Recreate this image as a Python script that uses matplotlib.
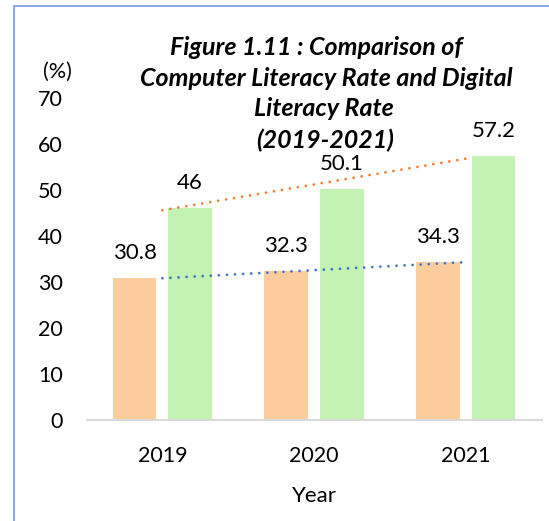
import numpy as np
import matplotlib
matplotlib.use("Agg")
import matplotlib.pyplot as plt
from matplotlib.patches import Rectangle

plt.rcParams['font.family'] = ['Lato', 'DejaVu Sans']

years = ['2019', '2020', '2021']
computer_literacy = [30.8, 32.3, 34.3]
digital_literacy = [46, 50.1, 57.2]
title_lines = ['Figure 1.11 : Comparison of', 'Computer Literacy Rate and Digital',
               'Literacy Rate', '(2019-2021)']

orange_bar = '#FDCD9E'
green_bar = '#C4F2B2'
orange_line = '#ED7D31'
blue_line = '#4472C4'

fig = plt.figure(figsize=(5.49, 5.21), dpi=100)
ax = fig.add_axes([0.1576, 0.1948, 0.829, 0.618])

x = np.arange(len(years))
w = 0.288
off = 0.183
b1 = ax.bar(x - off, computer_literacy, w, color=orange_bar)
b2 = ax.bar(x + off, digital_literacy, w, color=green_bar)

# linear trendlines like excel
for vals, col in [(computer_literacy, blue_line), (digital_literacy, orange_line)]:
    k, c = np.polyfit(x, vals, 1)
    ax.plot(x, k * x + c, color=col, lw=2.0, linestyle=(0, (0.01, 2.9)),
            dash_capstyle='round', zorder=3)

for bars, vals in [(b1, computer_literacy), (b2, digital_literacy)]:
    for r, v in zip(bars, vals):
        ax.annotate(f'{v:g}', (r.get_x() + r.get_width() / 2, v),
                    xytext=(0, 18), textcoords='offset points',
                    ha='center', va='center', fontsize=16)

ax.set_xlim(-0.5, 2.5)
ax.set_ylim(0, 70)
ax.set_yticks(range(0, 71, 10))
ax.set_xticks(x)
ax.set_xticklabels(years)
ax.tick_params(length=0, labelsize=15.5)
ax.tick_params(axis='y', pad=17)
ax.tick_params(axis='x', pad=19)
for s in ['top', 'right', 'left']:
    ax.spines[s].set_visible(False)
ax.spines['bottom'].set_color('#D9D9D9')
ax.spines['bottom'].set_linewidth(1.5)

# title, one text per line
tx = [316, 326, 324, 325]
ty = [47, 79, 108.5, 140]
for line, px, py in zip(title_lines, tx, ty):
    fig.text(px / 549, 1 - py / 521, line, ha='center', va='center',
             fontsize=18, fontweight='bold', fontstyle='italic')

fig.text(57 / 549, 1 - 72 / 521, '(%)', ha='center', va='center', fontsize=15.5)
fig.text(314 / 549, 1 - 495.5 / 521, 'Year', ha='center', va='center', fontsize=16)

# chart border (cut off at right and bottom)
fig.patches.append(Rectangle((13.7 / 549, -0.1), 1.2, 1 - 6.3 / 521 + 0.1,
                             transform=fig.transFigure, fill=False,
                             edgecolor='#8FAADC', lw=1.5))

fig.savefig('out.png', dpi=100)
